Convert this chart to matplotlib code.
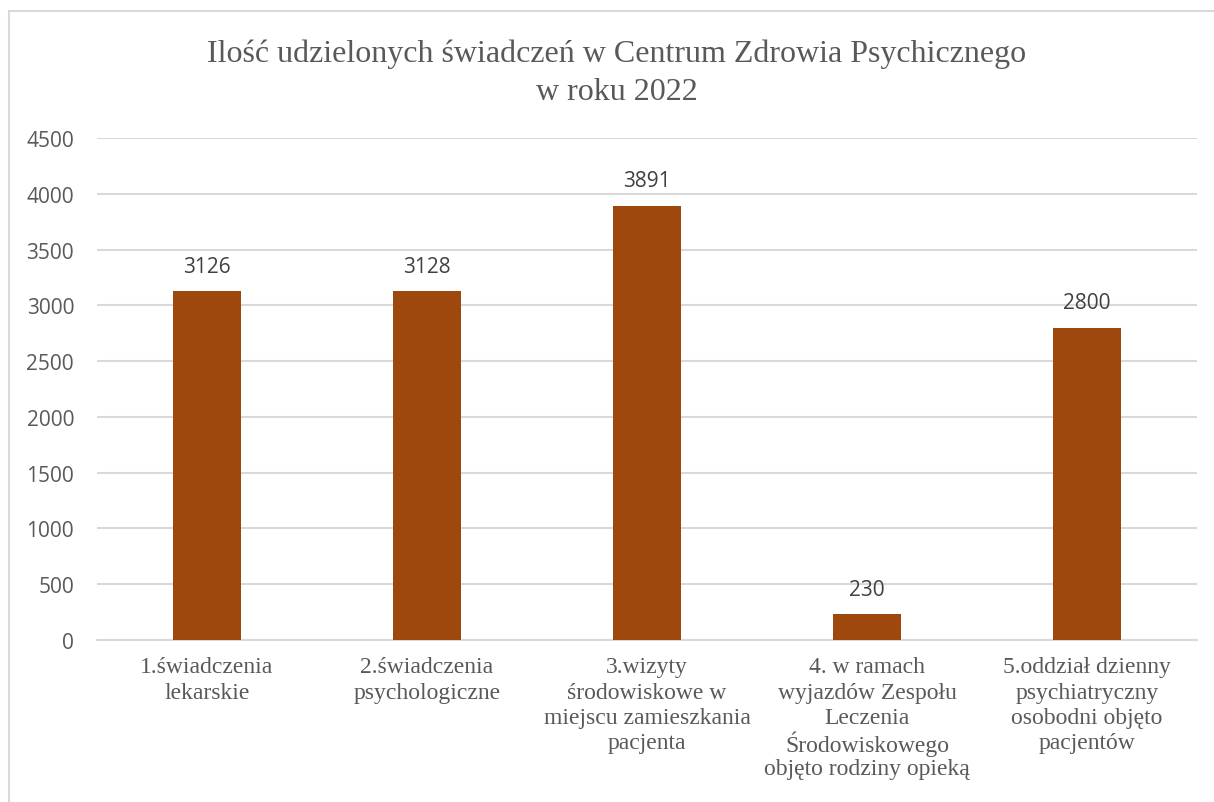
import matplotlib.pyplot as plt
from matplotlib.patches import Rectangle
from matplotlib.transforms import blended_transform_factory, offset_copy

categories = [
    "1.świadczenia\nlekarskie",
    "2.świadczenia\npsychologiczne",
    "3.wizyty\nśrodowiskowe w\nmiejscu zamieszkania\npacjenta",
    "4. w ramach\nwyjazdów Zespołu\nLeczenia\nŚrodowiskowego\nobjęto rodziny opieką",
    "5.oddział dzienny\npsychiatryczny\nosobodni objęto\npacjentów",
]
values = [3126, 3128, 3891, 230, 2800]
yticks = [0, 500, 1000, 1500, 2000, 2500, 3000, 3500, 4000, 4500]

W, H = 1214, 803
fig = plt.figure(figsize=(W / 100, H / 100), dpi=100)

# chart area border (cut off at right and bottom like the screenshot)
fig.patches.append(Rectangle((9 / W, -0.1), 1.2, (H - 12) / H + 0.1,
                             transform=fig.transFigure, fill=False,
                             edgecolor="#d9d9d9", linewidth=1.5))

ax = fig.add_axes([97 / W, 1 - 641 / H, (1197 - 97) / W, (641 - 139) / H])

x = range(len(values))
ax.bar(x, values, width=0.31, color="#9E480E", zorder=3)
for i, v in enumerate(values):
    ax.annotate(str(v), (i, v), xytext=(0, 18), textcoords="offset points",
                ha="center", va="center", fontsize=15, color="#404040",
                family="Open Sans")

ax.set_xlim(-0.5, len(values) - 0.5)
ax.set_ylim(0, 4500)
ax.set_yticks(yticks)
ax.set_yticklabels([str(t) for t in yticks], fontsize=15, color="#595959",
                   family="Open Sans")
ax.yaxis.grid(True, color="#d9d9d9", linewidth=1.5, zorder=0)
ax.tick_params(axis="y", length=0, pad=16.5)
ax.set_xticks(list(x))
ax.set_xticklabels([])
ax.tick_params(axis="x", length=0)

# category labels, one text per line so the spacing stays even
trans = blended_transform_factory(ax.transData, ax.transAxes)
for i, lab in enumerate(categories):
    for j, line in enumerate(lab.split("\n")):
        t = offset_copy(trans, fig=fig, x=0, y=-(27 + 25.3 * j) * 0.72,
                        units="points")
        ax.text(i, 0, line, transform=t, ha="center", va="center",
                fontsize=17, color="#595959", family="Liberation Serif")

for s in ["top", "right", "left"]:
    ax.spines[s].set_visible(False)
ax.spines["bottom"].set_color("#d9d9d9")
ax.spines["bottom"].set_linewidth(1.5)

fig.text(617 / W, 1 - 73.5 / H,
         "Ilość udzielonych świadczeń w Centrum Zdrowia Psychicznego\nw roku 2022",
         ha="center", va="center", fontsize=23, color="#595959",
         family="Liberation Serif", linespacing=1.4)

fig.savefig("out.png", dpi=100)
